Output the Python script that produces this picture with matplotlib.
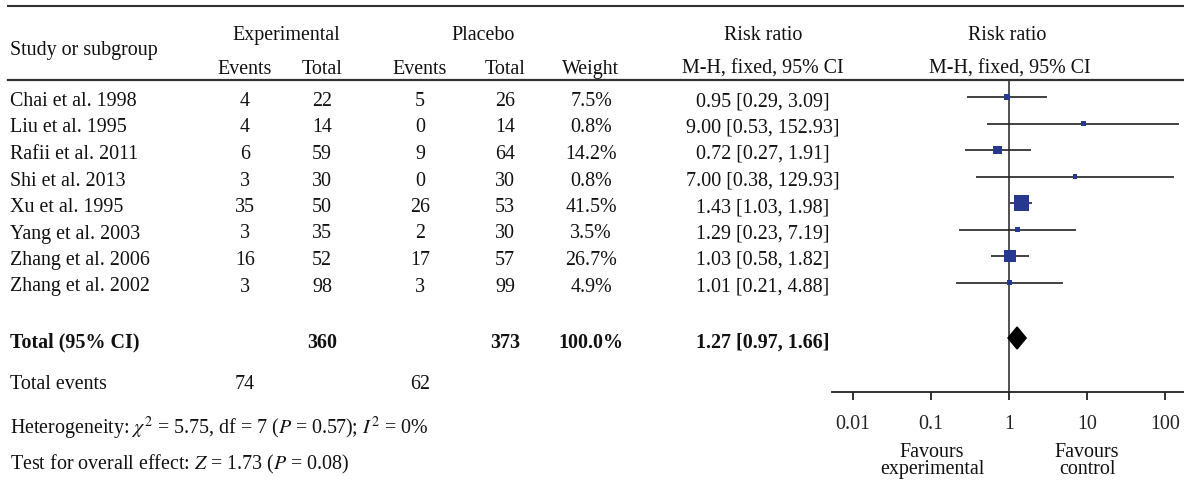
import numpy as np
import matplotlib.pyplot as plt
from matplotlib.patches import Polygon
from matplotlib.ticker import NullLocator

plt.rcParams['font.family'] = 'Liberation Serif'
plt.rcParams['mathtext.fontset'] = 'stix'

# data
studies = ["Chai et al. 1998", "Liu et al. 1995", "Rafii et al. 2011", "Shi et al. 2013",
           "Xu et al. 1995", "Yang et al. 2003", "Zhang et al. 2006", "Zhang et al. 2002"]
exp_events = [4, 4, 6, 3, 35, 3, 16, 3]
exp_total = [22, 14, 59, 30, 50, 35, 52, 98]
pla_events = [5, 0, 9, 0, 26, 2, 17, 3]
pla_total = [26, 14, 64, 30, 53, 30, 57, 99]
weight = [7.5, 0.8, 14.2, 0.8, 41.5, 3.5, 26.7, 4.9]
rr = [0.95, 9.00, 0.72, 7.00, 1.43, 1.29, 1.03, 1.01]
rr_lo = [0.29, 0.53, 0.27, 0.38, 1.03, 0.23, 0.58, 0.21]
rr_hi = [3.09, 152.93, 1.91, 129.93, 1.98, 7.19, 1.82, 4.88]

total_exp, total_pla = 360, 373
total_weight = 100.0
pooled = (1.27, 0.97, 1.66)
events_exp, events_pla = 74, 62
ticks = [0.01, 0.1, 1, 10, 100]
tick_labels = ["0.01", "0.1", "1", "10", "100"]

W, H = 1184, 489
fs = 14.4
line_col = '#222222'
sq_col = '#27388f'

fig = plt.figure(figsize=(W / 100, H / 100), dpi=100)
ax = fig.add_axes([0, 0, 1, 1])
ax.set_xlim(0, W)
ax.set_ylim(H, 0)
ax.axis('off')

# column centres (pixels)
c_study = 10
c_ee, c_et, c_pe, c_pt, c_w, c_rr, c_fp = 245, 322, 420, 505, 591, 763, 1010

def txt(x, y, s, ha='center', bold=False):
    return ax.text(x, y, s, ha=ha, va='center_baseline', fontsize=fs,
                   fontweight='bold' if bold else 'normal', color='#111111')

# header
ax.plot([8, W], [7, 7], color='#333333', lw=1.5)
ax.plot([8, W], [81, 81], color='#333333', lw=1.6)
txt(c_study, 48, "Study or subgroup", ha='left')
txt((c_ee + c_et) / 2 + 3, 33, "Experimental")
txt(483, 33, "Placebo")
txt(c_rr, 33, "Risk ratio")
txt(c_fp - 3, 33, "Risk ratio")
for x, s in [(c_ee, "Events"), (c_et, "Total"), (c_pe, "Events"), (c_pt, "Total"),
             (c_w, "Weight"), (c_rr, "M-H, fixed, 95% CI"), (c_fp, "M-H, fixed, 95% CI")]:
    txt(x, 67, s)

# study rows
row_y = [98 + 26.5 * i for i in range(len(studies))]
for i, y in enumerate(row_y):
    txt(c_study, y + 1, studies[i], ha='left')
    txt(c_ee, y + 1, str(exp_events[i]))
    txt(c_et, y + 1, str(exp_total[i]))
    txt(c_pe, y + 1, str(pla_events[i]))
    txt(c_pt, y + 1, str(pla_total[i]))
    txt(c_w, y + 1, f"{weight[i]:.1f}%")
    txt(c_rr, y + 1, f"{rr[i]:.2f} [{rr_lo[i]:.2f}, {rr_hi[i]:.2f}]")

y_tot = 339
txt(c_study, y_tot + 1, "Total (95% CI)", ha='left', bold=True)
txt(c_et, y_tot + 1, str(total_exp), bold=True)
txt(c_pt, y_tot + 1, str(total_pla), bold=True)
txt(c_w, y_tot + 1, f"{total_weight:.1f}%", bold=True)
txt(c_rr, y_tot + 1, f"{pooled[0]:.2f} [{pooled[1]:.2f}, {pooled[2]:.2f}]", bold=True)

txt(c_study, 382, "Total events", ha='left')
txt(c_ee, 382, str(events_exp))
txt(c_pe, 382, str(events_pla))
txt(c_study, 424, r"Heterogeneity: $\chi^2$ = 5.75, df = 7 ($P$ = 0.57); $I^2$ = 0%", ha='left')
txt(c_study, 461, r"Test for overall effect: $Z$ = 1.73 ($P$ = 0.08)", ha='left')

# forest panel, log scale, 1 at x=1009, 78 px per decade
x0, x1, axis_y = 832, W, 393
fx = fig.add_axes([x0 / W, (H - axis_y) / H, (x1 - x0) / W, (axis_y - 81) / H])
fx.patch.set_alpha(0)
fx.set_xscale('log')
fx.set_xlim(10 ** ((x0 - 1009) / 78), 10 ** ((x1 - 1009) / 78))
fx.set_ylim(axis_y, 81)
for s in ['top', 'left', 'right']:
    fx.spines[s].set_visible(False)
fx.spines['bottom'].set_color(line_col)
fx.spines['bottom'].set_linewidth(1.3)
fx.set_xticks(ticks)
fx.set_xticklabels(tick_labels)
fx.xaxis.set_minor_locator(NullLocator())
fx.set_yticks([])
fx.tick_params(axis='x', direction='out', length=6, width=1.3, pad=10,
               labelsize=fs, colors=line_col)

fx.axvline(1, color='#333333', lw=1.2, zorder=1)
fx.hlines(row_y, rr_lo, rr_hi, color=line_col, lw=1.2, zorder=2)
side_px = np.maximum(4.5, 2.35 * np.sqrt(weight))
fx.scatter(rr, row_y, marker='s', s=(side_px * 0.72) ** 2, color=sq_col,
           linewidths=0, zorder=3)
fx.add_patch(Polygon([(pooled[1], y_tot), (pooled[0], y_tot - 11),
                      (pooled[2], y_tot), (pooled[0], y_tot + 11)],
                     closed=True, color='black', zorder=3))

for x, s in [(932, "Favours\nexperimental"), (1087, "Favours\ncontrol")]:
    t = ax.text(x, 461, s, ha='center', va='center', fontsize=fs,
                color='#111111', linespacing=0.85)

fig.savefig("out.png", dpi=100)
